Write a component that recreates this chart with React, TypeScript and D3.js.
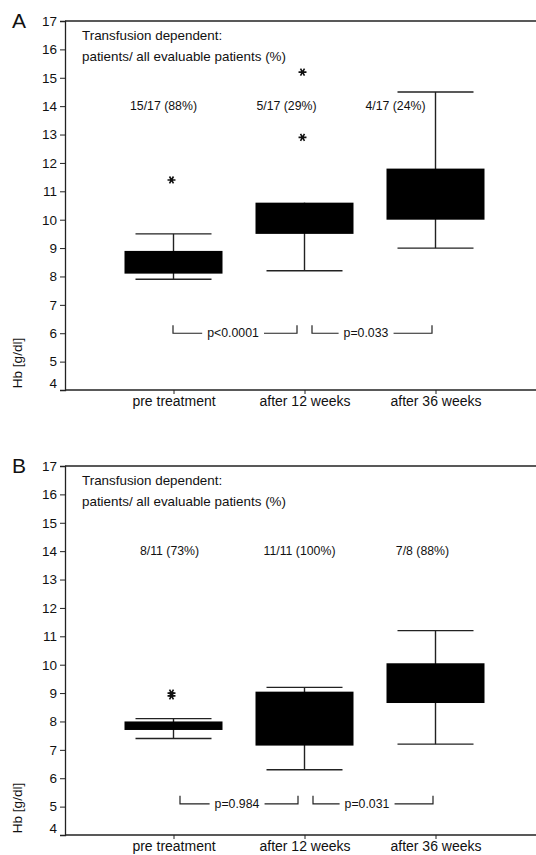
import React, { useEffect, useRef } from 'react';
import * as d3 from 'd3';

// categories on the x axis
const categories = ['pre treatment', 'after 12 weeks', 'after 36 weeks'];
const yTicks = [4, 5, 6, 7, 8, 9, 10, 11, 12, 13, 14, 15, 16, 17];

// box stats per group: [lower whisker, q1, q3, upper whisker]
const boxesA = [
  [7.9, 8.1, 8.9, 9.5],
  [8.2, 9.5, 10.6, 10.6],
  [9.0, 10.0, 11.8, 14.5],
];
const outliersA = [[11.4], [15.2, 12.9], []];
const countsA = ['15/17 (88%)', '5/17 (29%)', '4/17 (24%)'];
const pValuesA = ['p<0.0001', 'p=0.033'];

const boxesB = [
  [7.4, 7.7, 8.0, 8.1],
  [6.3, 7.15, 9.05, 9.2],
  [7.2, 8.65, 10.05, 11.2],
];
const outliersB = [[8.9, 9.0], [], []];
const countsB = ['8/11 (73%)', '11/11 (100%)', '7/8 (88%)'];
const pValuesB = ['p=0.984', 'p=0.031'];

const titleLines = ['Transfusion dependent:', 'patients/ all evaluable patients (%)'];
const FONT = '"Liberation Sans", Arial, Helvetica, sans-serif';

function drawPanel(svg, opts) {
  const { letter, top, bottom, boxes, outliers, counts, pValues, pLevel, countShift, bracketEnds } = opts;
  const left = 65;
  const right = 536;
  const ink = '#222';

  const y = d3.scaleLinear().domain([4, 17]).range([bottom, top]);
  const x = d3.scalePoint().domain(categories).range([173.5, 435.5]);
  const g = svg.append('g');

  // frame: left axis, top line, bottom axis
  g.append('line').attr('x1', left).attr('x2', right).attr('y1', top).attr('y2', top)
    .attr('stroke', ink).attr('stroke-width', 1.3);
  g.append('line').attr('x1', left).attr('x2', right).attr('y1', bottom).attr('y2', bottom)
    .attr('stroke', ink).attr('stroke-width', 1.3);

  const yAxis = d3.axisLeft(y).tickValues(yTicks).tickSize(5).tickPadding(3).tickFormat(d3.format('d'));
  const ya = g.append('g').attr('transform', `translate(${left},0)`).call(yAxis);
  ya.select('.domain').attr('stroke', ink).attr('stroke-width', 1.3);
  ya.selectAll('.tick line').attr('stroke', ink);
  ya.selectAll('.tick text').attr('font-family', FONT).attr('font-size', 13.5).attr('fill', '#111')
    .attr('dy', d => (d === 4 ? '-0.15em' : '0.32em'));

  const xAxis = d3.axisBottom(x).tickSize(4).tickPadding(2);
  const xa = g.append('g').attr('transform', `translate(0,${bottom})`).call(xAxis);
  xa.select('.domain').remove();
  xa.selectAll('.tick line').attr('stroke', ink);
  xa.selectAll('.tick text').attr('font-family', FONT).attr('font-size', 14).attr('fill', '#111');

  // axis title
  g.append('text')
    .attr('transform', `translate(22,${bottom - 27}) rotate(-90)`)
    .attr('text-anchor', 'middle')
    .attr('font-family', FONT).attr('font-size', 13.5).attr('fill', '#111')
    .text('Hb [g/dl]');

  // panel letter
  g.append('text').attr('x', 19).attr('y', top + 7).attr('text-anchor', 'middle')
    .attr('font-family', FONT).attr('font-size', 21).attr('fill', '#111').text(letter);

  // header text
  titleLines.forEach((t, i) => {
    g.append('text').attr('x', 82).attr('y', top + 19 + i * 21)
      .attr('font-family', FONT).attr('font-size', 13.4).attr('fill', '#111').text(t);
  });

  // counts above each group
  counts.forEach((c, i) => {
    g.append('text').attr('x', x(categories[i]) + countShift[i]).attr('y', y(14) + 4)
      .attr('text-anchor', 'middle')
      .attr('font-family', FONT).attr('font-size', 12.3).attr('fill', '#111').text(c);
  });

  // boxes and whiskers
  const boxHalf = 49;
  const capHalf = 38;
  boxes.forEach((b, i) => {
    const cx = x(categories[i]);
    const [lo, q1, q3, hi] = b;
    g.append('line').attr('x1', cx).attr('x2', cx).attr('y1', y(lo)).attr('y2', y(hi))
      .attr('stroke', ink).attr('stroke-width', 1.4);
    [lo, hi].forEach(v => {
      if (v === q3 || v === q1) return;
      g.append('line').attr('x1', cx - capHalf).attr('x2', cx + capHalf).attr('y1', y(v)).attr('y2', y(v))
        .attr('stroke', ink).attr('stroke-width', 1.4);
    });
    g.append('rect').attr('x', cx - boxHalf).attr('width', boxHalf * 2)
      .attr('y', y(q3)).attr('height', y(q1) - y(q3)).attr('fill', '#000');
    outliers[i].forEach(v => {
      const star = d3.symbol().type(d3.symbolAsterisk).size(44);
      g.append('path').attr('d', star())
        .attr('transform', `translate(${cx - 2},${y(v)}) rotate(90)`)
        .attr('stroke', '#111').attr('stroke-width', 1.6).attr('fill', 'none');
    });
  });

  // significance brackets
  pValues.forEach((p, i) => {
    const [x1, x2] = bracketEnds[i];
    const yy = y(pLevel);
    const t = g.append('text').attr('x', (x1 + x2) / 2 - (i === 1 ? 6 : 2)).attr('y', yy + 4)
      .attr('text-anchor', 'middle').attr('font-family', FONT).attr('font-size', 12.3).attr('fill', '#111').text(p);
    const bb = (t.node() as SVGTextElement).getBBox();
    g.append('path')
      .attr('d', `M${x1},${yy - 8}V${yy}H${bb.x - 5}M${bb.x + bb.width + 5},${yy}H${x2}V${yy - 8}`)
      .attr('stroke', ink).attr('stroke-width', 1.2).attr('fill', 'none');
  });
}

export default function App() {
  const ref = useRef<SVGSVGElement>(null);

  useEffect(() => {
    document.body.style.margin = '0';
    const svg = d3.select(ref.current);
    svg.selectAll('*').remove();
    drawPanel(svg, {
      letter: 'A', top: 21, bottom: 390,
      boxes: boxesA, outliers: outliersA, counts: countsA, pValues: pValuesA,
      pLevel: 6, countShift: [-10, -18, -40],
      bracketEnds: [[173, 297], [312, 432]],
    });
    drawPanel(svg, {
      letter: 'B', top: 466, bottom: 835,
      boxes: boxesB, outliers: outliersB, counts: countsB, pValues: pValuesB,
      pLevel: 5.1, countShift: [-4, -5, -13],
      bracketEnds: [[180, 298], [313, 433]],
    });
  }, []);

  return <svg ref={ref} width={536} height={855} style={{ display: 'block', background: '#fff' }} />;
}
